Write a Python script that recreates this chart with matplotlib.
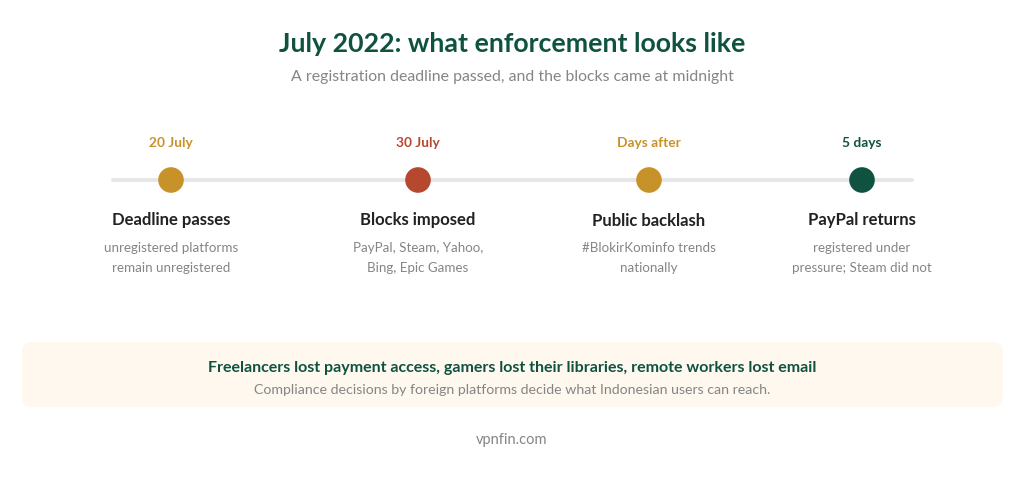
import matplotlib
matplotlib.use("Agg")
import matplotlib.pyplot as plt
from matplotlib.patches import FancyBboxPatch

TITLE = "July 2022: what enforcement looks like"
SUBTITLE = "A registration deadline passed, and the blocks came at midnight"
dates = ["20 July", "30 July", "Days after", "5 days"]
events = ["Deadline passes", "Blocks imposed", "Public backlash", "PayPal returns"]
line1 = ["unregistered platforms", "PayPal, Steam, Yahoo,", "#BlokirKominfo trends", "registered under"]
line2 = ["remain unregistered", "Bing, Epic Games", "nationally", "pressure; Steam did not"]
colors = ["#C8922A", "#B5482E", "#C8922A", "#0F5240"]
positions = [171, 418, 649, 862]
BOX_HEAD = "Freelancers lost payment access, gamers lost their libraries, remote workers lost email"
BOX_SUB = "Compliance decisions by foreign platforms decide what Indonesian users can reach."
FOOT = "vpnfin.com"

plt.rcParams['font.family'] = ['Lato', 'DejaVu Sans']
GREEN = "#0F5240"; GREY = "#858585"; DARK = "#222222"

fig = plt.figure(figsize=(10.24, 4.78), dpi=100, facecolor="white")
ax = fig.add_axes([0, 0, 1, 1])
ax.set_xlim(0, 1024); ax.set_ylim(478, 0); ax.axis("off")

def T(x, y, s, size, color, weight="normal"):
    ax.text(x, y, s, ha="center", va="center", fontsize=size, color=color, fontweight=weight)

T(512, 44, TITLE, 19.3, GREEN, "bold")
T(512, 77, SUBTITLE, 11.42, GREY)

ax.plot([113, 912], [180, 180], color="#E6E6E6", lw=2.8, solid_capstyle="round", zorder=1)
ax.scatter(positions, [180] * 4, s=340, c=colors, linewidths=0, zorder=2)

for x, d, e, a, b, c in zip(positions, dates, events, line1, line2, colors):
    T(x, 143, d, 9.9, c, "bold")
    T(x, 220.5, e, 12, DARK, "bold")
    T(x, 248, a, 9.6, GREY)
    T(x, 268.5, b, 9.6, GREY)

ax.add_patch(FancyBboxPatch((22, 342), 981, 65, boxstyle="round,pad=0,rounding_size=10",
                            fc="#FEF8EE", ec="none", zorder=0))
T(512, 368, BOX_HEAD, 11.5, GREEN, "bold")
T(512, 390, BOX_SUB, 10.2, GREY)
T(512, 440, FOOT, 10.5, GREY)

fig.savefig("out.png", dpi=100, facecolor="white")
